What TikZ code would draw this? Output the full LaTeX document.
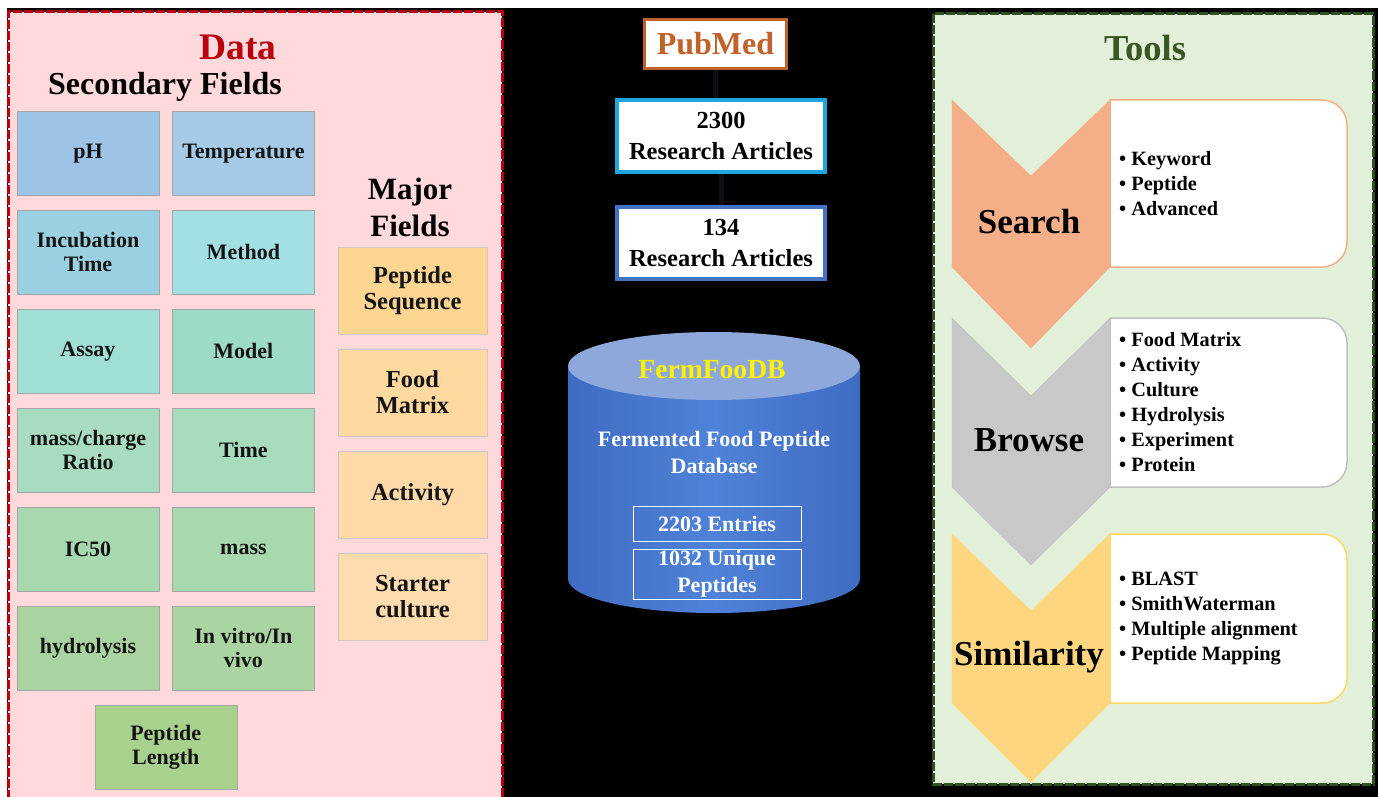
\documentclass[tikz,border=0pt]{standalone}
\usepackage{fontspec}
\setmainfont{Liberation Serif}
\usepackage{xcolor}
\usetikzlibrary{positioning, calc}

\definecolor{datared}{HTML}{B8000F}
\definecolor{datapink}{HTML}{FFD9DC}
\definecolor{toolline}{HTML}{2F5221}
\definecolor{toolgreen}{HTML}{E2EFD9}
\definecolor{tooltitle}{HTML}{385723}
\definecolor{cPH}{HTML}{9DC3E6}
\definecolor{cTemp}{HTML}{A4CAE8}
\definecolor{cIncub}{HTML}{9BD0E2}
\definecolor{cMethod}{HTML}{A2E0E4}
\definecolor{cAssay}{HTML}{9FDFD6}
\definecolor{cModel}{HTML}{9EDBC6}
\definecolor{cMz}{HTML}{A7DCC0}
\definecolor{cTime}{HTML}{A6DBBB}
\definecolor{cIC}{HTML}{A8D8B0}
\definecolor{cMass}{HTML}{A8D8AE}
\definecolor{cHydro}{HTML}{A9D4A2}
\definecolor{cVitro}{HTML}{AAD4A2}
\definecolor{cLength}{HTML}{A9D18E}
\definecolor{cSeq}{HTML}{FFD592}
\definecolor{cFood}{HTML}{FFD9A0}
\definecolor{cAct}{HTML}{FFDAA8}
\definecolor{cStart}{HTML}{FFDCAF}
\definecolor{pubbrown}{HTML}{C0622A}
\definecolor{artcyan}{HTML}{1EA6E0}
\definecolor{artblue}{HTML}{4472C4}
\definecolor{cylblue}{HTML}{3F6CC2}
\definecolor{cylmid}{HTML}{4F82D8}
\definecolor{cyltop}{HTML}{8EA8DB}
\definecolor{linkdark}{HTML}{0C0F16}
\definecolor{searchfill}{HTML}{F4AE88}
\definecolor{searchline}{HTML}{F4B183}
\definecolor{browsefill}{HTML}{C8C8C8}
\definecolor{browseline}{HTML}{C0C0C0}
\definecolor{simfill}{HTML}{FFD680}
\definecolor{simline}{HTML}{FFD966}

\begin{document}
\begin{tikzpicture}[
  x=1pt, y=-1pt,
  every node/.style={font=\bfseries, align=center, inner sep=0pt},
  secbox/.style={draw=black!35, fill=#1, minimum width=142pt, minimum height=84pt, text=black!92, font=\bfseries\fontsize{22}{24}\selectfont},
  majbox/.style={draw=black!22, fill=#1, minimum width=149pt, minimum height=87pt, text=black!92, font=\bfseries\fontsize{24.5}{26}\selectfont},
  artbox/.style={draw=#1, line width=4pt, fill=white, minimum width=208pt, minimum height=72pt, font=\bfseries\fontsize{24.5}{31}\selectfont},
  countbox/.style={draw=white, line width=1pt, minimum width=168pt, text=white, font=\bfseries\fontsize{22}{27}\selectfont},
  toolname/.style={font=\bfseries\fontsize{35}{40}\selectfont},
  toollist/.style={anchor=west, align=left, font=\bfseries\fontsize{20.3}{25}\selectfont},
  link/.style={draw=linkdark, line width=5pt}
  ]
  \useasboundingbox (0,0) rectangle (1378,797);
  
  % Background and panels
  \fill[white] (0,0) rectangle (1378,797);
  \fill[black] (7,8) rectangle (1378,797);
  \fill[datapink] (8,12) rectangle (502,799);
  \draw[datared, line width=3pt, dash pattern=on 9pt off 2pt] (8,799) -- (8,12) -- (502,12) -- (502,799);
  \fill[toolgreen] (933,14) rectangle (1373,784);
  \draw[toolline, line width=3pt, dash pattern=on 9pt off 2pt] (933,14) rectangle (1373,784);
  
  % Data
  \node[text=datared, font=\bfseries\fontsize{37.5}{40}\selectfont] (datatitle) at (238,47) {Data};
  \node[font=\bfseries\fontsize{32}{36}\selectfont] (sectitle) at (165,87) {Secondary Fields};
  \node[font=\bfseries\fontsize{31}{37}\selectfont] (majtitle) at (410,207) {Major\\Fields};
  
  \node[secbox=cPH] (ph) at (88,153.5) {pH};
  \node[secbox=cTemp, right=13pt of ph] (temp) {Temperature};
  \node[secbox=cIncub, below=14.5pt of ph] (incub) {Incubation\\Time};
  \node[secbox=cMethod, below=14.5pt of temp] (method) {Method};
  \node[secbox=cAssay, below=14.5pt of incub] (assay) {Assay};
  \node[secbox=cModel, below=14.5pt of method] (model) {Model};
  \node[secbox=cMz, below=14.5pt of assay] (mz) {mass/charge\\Ratio};
  \node[secbox=cTime, below=14.5pt of model] (time) {Time};
  \node[secbox=cIC, below=14.5pt of mz] (ic50) {IC50};
  \node[secbox=cMass, below=14.5pt of time] (mass) {mass};
  \node[secbox=cHydro, below=14.5pt of ic50] (hydro) {hydrolysis};
  \node[secbox=cVitro, below=14.5pt of mass] (vitro) {In vitro/In\\vivo};
  \coordinate (lenmid) at ($(hydro.south)!0.5!(vitro.south)$);
  \node[secbox=cLength, below=15pt of lenmid] (length) {Peptide\\Length};
  
  \node[majbox=cSeq] (seq) at (412.5,290.5) {Peptide\\Sequence};
  \node[majbox=cFood, below=14.5pt of seq] (food) {Food\\Matrix};
  \node[majbox=cAct, below=14.5pt of food] (activity) {Activity};
  \node[majbox=cStart, below=14.5pt of activity] (starter) {Starter\\culture};
  
  % Sources and database
  \node[draw=pubbrown, line width=3.5pt, fill=white, minimum width=142pt, minimum height=49pt, text=pubbrown, font=\bfseries\fontsize{32}{36}\selectfont] (pubmed) at (715.5,44) {PubMed};
  \node[artbox=artcyan, below=28pt of pubmed, xshift=5.5pt] (art2300) {2300\\Research Articles};
  \node[artbox=artblue, below=31pt of art2300] (art134) {134\\Research Articles};
  
  \shade[left color=cylblue, right color=cylblue, middle color=cylmid] (568,366) -- (568,579) arc[start angle=180, end angle=360, x radius=146pt, y radius=34pt] -- (860,366) -- cycle;
  \fill[cyltop] (714,366) ellipse[x radius=146pt, y radius=34pt];
  \node[text=yellow, font=\bfseries\fontsize{27.6}{30}\selectfont] (dbname) at (712,370) {FermFooDB};
  \node[text=white, font=\bfseries\fontsize{22}{27}\selectfont] (dbdesc) at (714,452) {Fermented Food Peptide\\Database};
  \node[countbox, minimum height=35pt] (entries) at (717,523.5) {2203 Entries};
  \node[countbox, minimum height=50pt, below=7pt of entries] (unique) {1032 Unique\\Peptides};
  
  \draw[link] (pubmed.south) -- (pubmed.south |- art2300.north);
  \draw[link] (art2300) -- (art134);
  
  % Tools
  \node[text=tooltitle, font=\bfseries\fontsize{36.5}{40}\selectfont] (tooltitle) at (1145,48) {Tools};
  
  \filldraw[fill=white, draw=searchline, line width=1.5pt] (1110,100) -- (1322,100) arc[start angle=90, end angle=0, radius=25pt] -- (1347,242) arc[start angle=0, end angle=-90, radius=25pt] -- (1110,267) -- cycle;
  \filldraw[fill=white, draw=browseline, line width=1.5pt] (1110,318) -- (1322,318) arc[start angle=90, end angle=0, radius=25pt] -- (1347,462) arc[start angle=0, end angle=-90, radius=25pt] -- (1110,487) -- cycle;
  \filldraw[fill=white, draw=simline, line width=1.5pt] (1110,534) -- (1322,534) arc[start angle=90, end angle=0, radius=25pt] -- (1347,678) arc[start angle=0, end angle=-90, radius=25pt] -- (1110,703) -- cycle;
  
  \filldraw[fill=searchfill, draw=searchline] (952,100) -- (1031,176) -- (1110,100) -- (1110,267) -- (1031,348) -- (952,267) -- cycle;
  \filldraw[fill=browsefill, draw=browseline] (952,318) -- (1031,396) -- (1110,318) -- (1110,487) -- (1031,565) -- (952,487) -- cycle;
  \filldraw[fill=simfill, draw=simline] (952,534) -- (1031,611) -- (1110,534) -- (1110,703) -- (1031,782) -- (952,703) -- cycle;
  
  \node[toolname] (search) at (1029,222) {Search};
  \node[toolname] (browse) at (1029,440) {Browse};
  \node[toolname] (similarity) at (1029,657) {Similarity};
  
  \node[toollist] (searchlist) at (1119,183.5) {\textbullet\ Keyword\\\textbullet\ Peptide\\\textbullet\ Advanced};
  \node[toollist] (browselist) at (1119,402.5) {\textbullet\ Food Matrix\\\textbullet\ Activity\\\textbullet\ Culture\\\textbullet\ Hydrolysis\\\textbullet\ Experiment\\\textbullet\ Protein};
  \node[toollist] (simlist) at (1119,618.5) {\textbullet\ BLAST\\\textbullet\ SmithWaterman\\\textbullet\ Multiple alignment\\\textbullet\ Peptide Mapping};
  
\end{tikzpicture}
\end{document}
